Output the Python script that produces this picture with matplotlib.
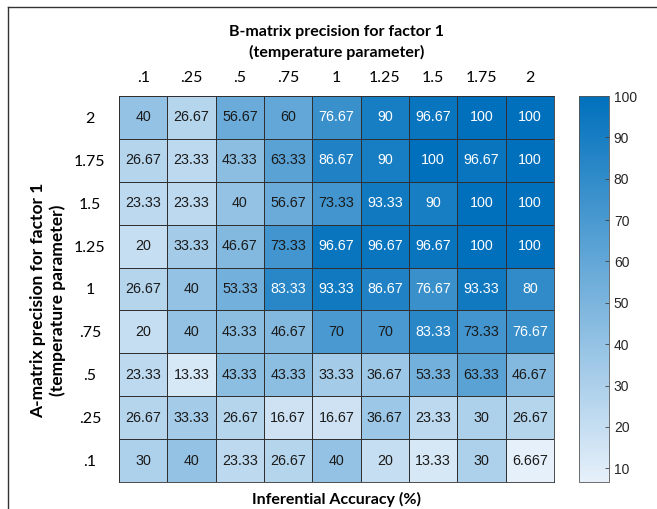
import matplotlib.pyplot as plt
import numpy as np
from matplotlib.colors import LinearSegmentedColormap
from matplotlib.lines import Line2D

b_labels = ['.1', '.25', '.5', '.75', '1', '1.25', '1.5', '1.75', '2']
a_labels = ['2', '1.75', '1.5', '1.25', '1', '.75', '.5', '.25', '.1']

row_2 = [40, 26.67, 56.67, 60, 76.67, 90, 96.67, 100, 100]
row_175 = [26.67, 23.33, 43.33, 63.33, 86.67, 90, 100, 96.67, 100]
row_15 = [23.33, 23.33, 40, 56.67, 73.33, 93.33, 90, 100, 100]
row_125 = [20, 33.33, 46.67, 73.33, 96.67, 96.67, 96.67, 100, 100]
row_1 = [26.67, 40, 53.33, 83.33, 93.33, 86.67, 76.67, 93.33, 80]
row_075 = [20, 40, 43.33, 46.67, 70, 70, 83.33, 73.33, 76.67]
row_05 = [23.33, 13.33, 43.33, 43.33, 33.33, 36.67, 53.33, 63.33, 46.67]
row_025 = [26.67, 33.33, 26.67, 16.67, 16.67, 36.67, 23.33, 30, 26.67]
row_01 = [30, 40, 23.33, 26.67, 40, 20, 13.33, 30, 6.667]

acc = np.array([row_2, row_175, row_15, row_125, row_1,
                row_075, row_05, row_025, row_01])

W, H = 657, 509
fig = plt.figure(figsize=(W / 100, H / 100), dpi=100)

cmap = LinearSegmentedColormap.from_list('mblue', ['#E6F0FA', '#0070BC'])
vmin, vmax = acc.min(), acc.max()

# heatmap axes (pixel box converted to figure fractions)
left, right, top, bottom = 119, 554, 96, 482
ax = fig.add_axes([left / W, 1 - bottom / H, (right - left) / W, (bottom - top) / H])
mesh = ax.pcolormesh(acc, cmap=cmap, vmin=vmin, vmax=vmax,
                     edgecolors='#303030', linewidth=0.5)
ax.set_xlim(0, 9)
ax.set_ylim(9, 0)
for s in ax.spines.values():
    s.set_color('#303030')
    s.set_linewidth(0.6)

for i in range(acc.shape[0]):
    for j in range(acc.shape[1]):
        v = acc[i, j]
        txt = f'{v:.4g}'
        ax.text(j + 0.5, i + 0.5, txt, ha='center', va='center',
                fontsize=10.3, family='Liberation Sans',
                color='white' if v > 75 else '#1a1a1a')

ax.xaxis.tick_top()
ax.set_xticks(np.arange(9) + 0.5)
ax.set_xticklabels(b_labels, family='Lato', fontsize=11.5)
ax.set_yticks(np.arange(9) + 0.5)
ax.set_yticklabels(a_labels, family='Lato', fontsize=11.5, ha='center')
ax.tick_params(axis='x', length=0, pad=8)
ax.tick_params(axis='y', length=0, pad=21)

# colorbar
cleft, cright = 579, 609
cax = fig.add_axes([cleft / W, 1 - bottom / H, (cright - cleft) / W, (bottom - top) / H])
cb = fig.colorbar(mesh, cax=cax)
cb.set_ticks([10, 20, 30, 40, 50, 60, 70, 80, 90, 100])
cb.ax.tick_params(direction='in', length=3, width=0.6, colors='#404040',
                  labelsize=10, labelcolor='#262626')
for t in cb.ax.get_yticklabels():
    t.set_family('Liberation Sans')
cb.outline.set_edgecolor('#555555')
cb.outline.set_linewidth(0.6)

cx = (left + right) / 2 / W
fig.text(cx, 1 - 32 / H, 'B-matrix precision for factor 1', ha='center', va='center',
         family='Lato', weight='bold', fontsize=11.5)
fig.text(cx, 1 - 52 / H, '(temperature parameter)', ha='center', va='center',
         family='Lato', weight='bold', fontsize=11.5)
ymid = 1 - 300 / H
fig.text(38 / W, ymid, 'A-matrix precision for factor 1',
         ha='center', va='center', rotation=90,
         family='Lato', weight='bold', fontsize=12.5)
fig.text(58 / W, ymid, '(temperature parameter)',
         ha='center', va='center', rotation=90,
         family='Lato', weight='bold', fontsize=12.5)
fig.text(cx, 1 - 499 / H, 'Inferential Accuracy (%)', ha='center', va='center',
         family='Lato', weight='bold', fontsize=11.5)

# partial frame around the figure
fig.add_artist(Line2D([8 / W, 8 / W], [0, 1 - 7 / H], color='#333333', lw=1,
                      transform=fig.transFigure))
fig.add_artist(Line2D([8 / W, 1], [1 - 7 / H, 1 - 7 / H], color='#333333', lw=1,
                      transform=fig.transFigure))

fig.savefig('out.png', dpi=100)
